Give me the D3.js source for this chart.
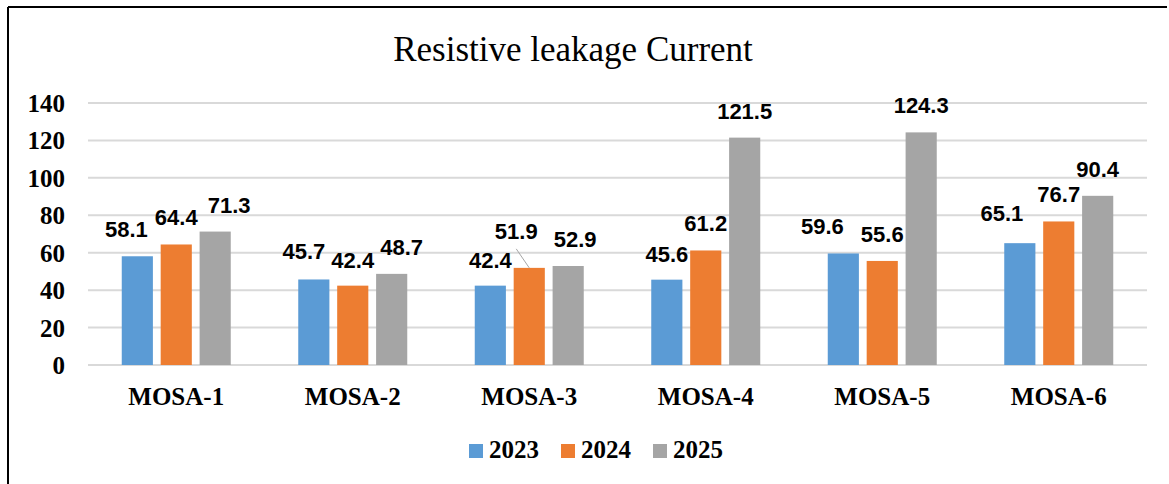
<!DOCTYPE html>
<html>
<head>
<meta charset="utf-8">
<script src="https://cdn.jsdelivr.net/npm/d3@7"></script>
<style>
  body { margin: 0; background: #fff; }
  svg { display: block; }
</style>
</head>
<body>
<div id="chart"></div>
<script>
var w = 1169;
var h = 484;

// data
var categories = ["MOSA-1", "MOSA-2", "MOSA-3", "MOSA-4", "MOSA-5", "MOSA-6"];
var years = ["2023", "2024", "2025"];
var values2023 = [58.1, 45.7, 42.4, 45.6, 59.6, 65.1];
var values2024 = [64.4, 42.4, 51.9, 61.2, 55.6, 76.7];
var values2025 = [71.3, 48.7, 52.9, 121.5, 124.3, 90.4];
var yTicks = [0, 20, 40, 60, 80, 100, 120, 140];

var colors = ["#5B9BD5", "#ED7D31", "#A5A5A5"];

// labels that were dragged by hand in the original [dx, dy]
var labelNudge = [
  [[-11, 0], [0, 0], [14, 0]],
  [[-10, -1], [0, 1], [10, 0]],
  [[0, 1], [-13, -10], [7, 0]],
  [[0, 1], [0, 0], [0, 0]],
  [[-21, 0], [0, 0], [0, 0]],
  [[-18, -3], [0, 0], [0, 0]]
];

var series = [values2023, values2024, values2025];
var rows = categories.map(function (c, i) {
  return { cat: c, vals: series.map(function (s) { return s[i]; }) };
});

var svg = d3.select("#chart").append("svg")
  .attr("width", w)
  .attr("height", h);

// frame (only top and left show in the picture)
svg.append("line").attr("x1", 8).attr("y1", 7).attr("x2", 1167).attr("y2", 7)
  .attr("stroke", "#000").attr("stroke-width", 2);
svg.append("line").attr("x1", 8).attr("y1", 7).attr("x2", 8).attr("y2", h)
  .attr("stroke", "#000").attr("stroke-width", 2);

svg.append("text")
  .attr("x", 573).attr("y", 61)
  .attr("text-anchor", "middle")
  .style("font-family", "'Liberation Serif', 'Times New Roman', serif")
  .style("font-size", "35px")
  .text("Resistive leakage Current");

var x0 = d3.scaleBand().domain(categories).range([88, 1147]).padding(0);
var x1 = d3.scaleBand().domain(years).range([0, 109]).paddingInner(0.2);
var y = d3.scaleLinear().domain([0, 140]).range([365, 103]);

// gridlines
svg.append("g").selectAll("line")
  .data(yTicks)
  .enter().append("line")
  .attr("x1", 88).attr("x2", 1147)
  .attr("y1", function (d) { return y(d); })
  .attr("y2", function (d) { return y(d); })
  .attr("stroke", "#d9d9d9")
  .attr("stroke-width", 2);

// y tick labels
svg.append("g").selectAll("text")
  .data(yTicks)
  .enter().append("text")
  .attr("x", 65)
  .attr("y", function (d) { return y(d) + 9; })
  .attr("text-anchor", "end")
  .style("font-family", "'Liberation Serif', 'Times New Roman', serif")
  .style("font-weight", "bold")
  .style("font-size", "25px")
  .text(function (d) { return d; });

// category labels
svg.append("g").selectAll("text")
  .data(categories)
  .enter().append("text")
  .attr("x", function (d) { return x0(d) + x0.bandwidth() / 2; })
  .attr("y", 405)
  .attr("text-anchor", "middle")
  .style("font-family", "'Liberation Serif', 'Times New Roman', serif")
  .style("font-weight", "bold")
  .style("font-size", "25px")
  .text(function (d) { return d; });

var groups = svg.append("g").selectAll("g")
  .data(rows)
  .enter().append("g")
  .attr("transform", function (d) {
    return "translate(" + (x0(d.cat) + (x0.bandwidth() - 109) / 2) + ",0)";
  });

var cells = groups.selectAll("g")
  .data(function (d, i) {
    return d.vals.map(function (v, j) { return { v: v, year: years[j], j: j, i: i }; });
  })
  .enter().append("g");

cells.append("rect")
  .attr("x", function (d) { return x1(d.year); })
  .attr("y", function (d) { return y(d.v); })
  .attr("width", x1.bandwidth())
  .attr("height", function (d) { return y(0) - y(d.v); })
  .attr("fill", function (d) { return colors[d.j]; });

cells.append("text")
  .attr("x", function (d) { return x1(d.year) + x1.bandwidth() / 2 + labelNudge[d.i][d.j][0]; })
  .attr("y", function (d) { return y(d.v) - 19 + labelNudge[d.i][d.j][1]; })
  .attr("text-anchor", "middle")
  .style("font-family", "'Liberation Sans', Arial, sans-serif")
  .style("font-weight", "bold")
  .style("font-size", "22px")
  .text(function (d) { return d.v.toFixed(1); });

// leader line for the label that was pulled far from its bar
cells.filter(function (d) { return labelNudge[d.i][d.j][1] < -5; })
  .append("line")
  .attr("x1", function (d) { return x1(d.year) + x1.bandwidth() / 2 + labelNudge[d.i][d.j][0]; })
  .attr("y1", function (d) { return y(d.v) - 19 + labelNudge[d.i][d.j][1] + 10; })
  .attr("x2", function (d) { return x1(d.year) + x1.bandwidth() / 2; })
  .attr("y2", function (d) { return y(d.v); })
  .attr("stroke", "#a6a6a6")
  .attr("stroke-width", 1);

// legend
var legend = svg.append("g").selectAll("g")
  .data(years)
  .enter().append("g")
  .attr("transform", function (d, i) { return "translate(" + (469 + i * 92) + ",444)"; });

legend.append("rect")
  .attr("width", 14).attr("height", 14)
  .attr("fill", function (d, i) { return colors[i]; });

legend.append("text")
  .attr("x", 20).attr("y", 14)
  .style("font-family", "'Liberation Serif', 'Times New Roman', serif")
  .style("font-weight", "bold")
  .style("font-size", "25px")
  .text(function (d) { return d; });
</script>
</body>
</html>
